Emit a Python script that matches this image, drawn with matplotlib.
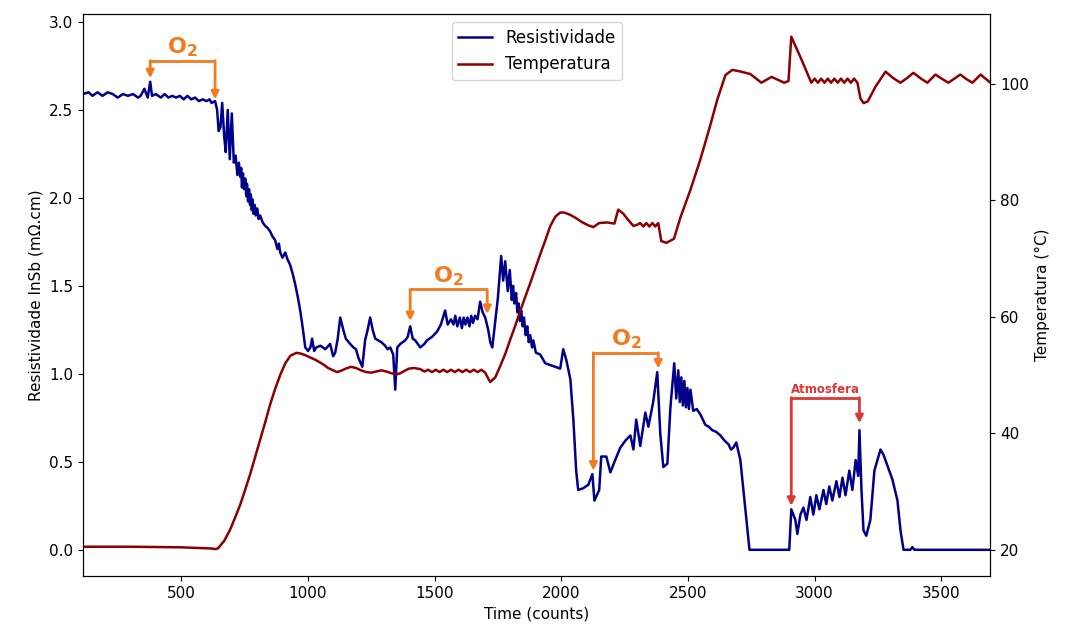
import matplotlib.pyplot as plt

# resistivity of the InSb film (mOhm.cm) as (time, value) pairs
res_points = [
    (113, 2.59), (135, 2.60), (150, 2.58), (170, 2.60), (190, 2.58), (210, 2.60),
    (230, 2.59), (250, 2.57), (270, 2.59), (290, 2.58), (310, 2.59), (330, 2.57),
    (340, 2.58), (355, 2.62), (368, 2.57), (378, 2.66), (385, 2.58), (400, 2.59),
    (420, 2.57), (435, 2.59), (450, 2.57), (465, 2.58), (480, 2.57), (495, 2.58),
    (510, 2.56), (525, 2.58), (540, 2.56), (555, 2.57), (570, 2.55), (585, 2.56),
    (600, 2.55), (612, 2.56), (620, 2.54), (634, 2.55), (642, 2.50), (648, 2.38),
    (655, 2.40), (662, 2.54), (670, 2.35), (676, 2.26), (684, 2.50), (692, 2.22),
    (700, 2.48), (708, 2.20), (715, 2.24), (722, 2.13), (728, 2.20), (733, 2.12),
    (737, 2.17), (740, 2.06), (744, 2.14), (748, 2.05), (753, 2.11), (757, 2.01),
    (760, 2.08), (764, 1.98), (768, 2.05), (772, 1.96), (775, 2.02), (779, 1.93),
    (782, 1.99), (786, 1.91), (790, 1.96), (795, 1.90), (800, 1.94), (806, 1.88),
    (812, 1.90), (822, 1.86), (832, 1.84), (841, 1.83), (851, 1.81), (861, 1.78),
    (871, 1.76), (880, 1.71), (886, 1.74), (891, 1.69), (900, 1.66), (911, 1.69),
    (920, 1.65), (930, 1.62), (940, 1.57), (950, 1.51), (960, 1.44), (970, 1.36),
    (980, 1.26), (990, 1.15), (1001, 1.13), (1010, 1.15), (1017, 1.20), (1025, 1.13),
    (1033, 1.15), (1050, 1.16), (1069, 1.14), (1088, 1.17), (1100, 1.10), (1108, 1.12),
    (1118, 1.20), (1128, 1.32), (1140, 1.25), (1150, 1.20), (1167, 1.17), (1180, 1.15),
    (1190, 1.14), (1200, 1.09), (1215, 1.04), (1226, 1.19), (1236, 1.25), (1246, 1.32),
    (1256, 1.25), (1266, 1.20), (1278, 1.19), (1290, 1.18), (1305, 1.16), (1315, 1.14),
    (1325, 1.15), (1337, 1.11), (1345, 0.91), (1353, 1.15), (1365, 1.17), (1384, 1.19),
    (1394, 1.21), (1404, 1.27), (1414, 1.20), (1424, 1.19), (1444, 1.15), (1460, 1.17),
    (1470, 1.19), (1490, 1.21), (1510, 1.24), (1525, 1.28), (1542, 1.36), (1552, 1.28),
    (1565, 1.31), (1575, 1.28), (1582, 1.33), (1590, 1.27), (1600, 1.32), (1608, 1.26),
    (1615, 1.32), (1622, 1.28), (1630, 1.32), (1638, 1.27), (1645, 1.33), (1652, 1.29),
    (1660, 1.33), (1670, 1.31), (1680, 1.41), (1690, 1.35), (1700, 1.32), (1712, 1.25),
    (1720, 1.18), (1728, 1.15), (1740, 1.30), (1750, 1.43), (1763, 1.67), (1771, 1.53),
    (1779, 1.64), (1789, 1.47), (1797, 1.59), (1805, 1.42), (1810, 1.50), (1815, 1.40),
    (1822, 1.46), (1827, 1.35), (1832, 1.40), (1837, 1.30), (1842, 1.36), (1848, 1.27),
    (1853, 1.32), (1860, 1.22), (1866, 1.27), (1872, 1.18), (1878, 1.22), (1885, 1.15),
    (1890, 1.19), (1900, 1.12), (1917, 1.11), (1937, 1.06), (1957, 1.05), (1977, 1.04),
    (1996, 1.03), (2008, 1.14), (2020, 1.08), (2036, 0.97), (2048, 0.74), (2059, 0.45),
    (2067, 0.34), (2087, 0.35), (2107, 0.37), (2123, 0.43), (2131, 0.28), (2150, 0.34),
    (2158, 0.53), (2178, 0.53), (2194, 0.44), (2213, 0.51), (2233, 0.58), (2253, 0.62),
    (2273, 0.65), (2285, 0.57), (2296, 0.74), (2312, 0.59), (2332, 0.78), (2344, 0.70),
    (2363, 0.84), (2379, 1.01), (2391, 0.66), (2403, 0.47), (2419, 0.49), (2431, 0.81),
    (2446, 1.06), (2454, 0.86), (2462, 1.02), (2468, 0.84), (2474, 0.98), (2480, 0.82),
    (2486, 0.96), (2492, 0.81), (2498, 0.92), (2504, 0.80), (2510, 0.91), (2521, 0.79),
    (2535, 0.80), (2549, 0.77), (2569, 0.71), (2582, 0.70), (2596, 0.68), (2612, 0.67),
    (2628, 0.65), (2645, 0.62), (2660, 0.60), (2670, 0.57), (2679, 0.58), (2691, 0.61),
    (2707, 0.51), (2727, 0.23), (2743, 0.0), (2900, 0.0), (2908, 0.23), (2924, 0.17),
    (2932, 0.09), (2944, 0.20), (2956, 0.24), (2968, 0.17), (2983, 0.30), (2995, 0.20),
    (3007, 0.31), (3019, 0.23), (3035, 0.34), (3046, 0.26), (3058, 0.36), (3070, 0.28),
    (3086, 0.39), (3098, 0.30), (3110, 0.41), (3122, 0.31), (3137, 0.45), (3149, 0.34),
    (3162, 0.51), (3172, 0.42), (3177, 0.68), (3185, 0.34), (3193, 0.11), (3204, 0.08),
    (3220, 0.17), (3236, 0.45), (3248, 0.51), (3260, 0.57), (3272, 0.54), (3287, 0.48),
    (3307, 0.40), (3327, 0.28), (3339, 0.11), (3351, 0.0), (3378, 0.0), (3386, 0.015),
    (3394, 0.0), (3694, 0.0),
]
res_t = [p[0] for p in res_points]
res_v = [p[1] for p in res_points]

# furnace temperature (deg C) as (time, value) pairs
temp_points = [
    (113, 20.5), (300, 20.5), (500, 20.4), (620, 20.2), (634, 20.1), (645, 20.2),
    (670, 21.5), (693, 23.4), (713, 25.5), (733, 27.7), (752, 30.2), (772, 32.9),
    (792, 35.9), (812, 38.9), (832, 41.9), (851, 44.9), (871, 47.6), (891, 50.0),
    (911, 52.0), (931, 53.3), (955, 53.8), (970, 53.7), (990, 53.4), (1010, 53.0),
    (1030, 52.6), (1050, 52.1), (1065, 51.7), (1080, 51.2), (1100, 50.8), (1115, 50.5),
    (1130, 50.7), (1150, 51.1), (1170, 51.4), (1190, 51.2), (1210, 50.8), (1230, 50.5),
    (1250, 50.4), (1270, 50.6), (1290, 50.8), (1310, 50.6), (1330, 50.3), (1350, 50.1),
    (1365, 50.3), (1385, 50.8), (1400, 51.1), (1420, 51.2), (1444, 51.0), (1460, 50.6),
    (1475, 50.9), (1490, 50.5), (1505, 50.9), (1520, 50.5), (1535, 50.9), (1550, 50.5),
    (1565, 50.9), (1580, 50.5), (1595, 50.9), (1610, 50.5), (1625, 50.9), (1640, 50.5),
    (1655, 50.9), (1670, 50.5), (1685, 50.9), (1700, 50.4), (1712, 49.4), (1720, 48.8),
    (1740, 49.6), (1759, 51.5), (1779, 53.6), (1799, 56.1), (1819, 58.5), (1838, 61.0),
    (1858, 63.4), (1878, 65.8), (1898, 68.3), (1917, 70.7), (1937, 73.1), (1957, 75.6),
    (1977, 77.2), (1996, 77.9), (2012, 77.9), (2036, 77.5), (2060, 76.9), (2080, 76.3),
    (2107, 75.7), (2127, 75.4), (2150, 76.1), (2182, 76.2), (2210, 76.0), (2225, 78.4),
    (2245, 77.7), (2265, 76.6), (2285, 75.6), (2300, 75.8), (2312, 76.1), (2324, 75.5),
    (2336, 76.1), (2348, 75.5), (2360, 76.1), (2371, 75.5), (2383, 76.1), (2395, 73.0),
    (2415, 72.7), (2445, 73.4), (2470, 77.0), (2510, 81.8), (2549, 87.0), (2589, 93.0),
    (2616, 97.3), (2648, 101.5), (2675, 102.4), (2700, 102.2), (2746, 101.7), (2790, 100.2),
    (2830, 101.2), (2880, 100.2), (2897, 100.5), (2908, 108.1), (2948, 104.2), (2987, 100.2),
    (3000, 100.9), (3013, 100.2), (3026, 100.9), (3039, 100.2), (3052, 100.9), (3065, 100.2),
    (3078, 100.9), (3091, 100.2), (3104, 100.9), (3117, 100.2), (3130, 100.9), (3143, 100.2),
    (3156, 100.9), (3169, 100.2), (3181, 97.5), (3193, 96.7), (3210, 97.0), (3240, 99.5),
    (3280, 102.1), (3310, 101.0), (3339, 100.2), (3365, 101.0), (3390, 101.9), (3420, 100.9),
    (3445, 100.2), (3477, 101.6), (3505, 100.8), (3528, 100.2), (3575, 101.6), (3600, 100.8),
    (3623, 100.2), (3655, 101.6), (3694, 100.2),
]
temp_t = [p[0] for p in temp_points]
temp_v = [p[1] for p in temp_points]

# bracket annotations: left time, right time, bracket height, arrow tips
o2_left = [378, 1404, 2127]
o2_right = [634, 1708, 2383]
o2_top = [2.78, 1.48, 1.12]
o2_tip_left = [2.68, 1.30, 0.45]
o2_tip_right = [2.56, 1.34, 1.03]
atm_left, atm_right, atm_top = 2908, 3177, 0.865
atm_tip_left, atm_tip_right = 0.25, 0.72

fig, ax = plt.subplots(figsize=(10.65, 6.37), dpi=100)
fig.subplots_adjust(left=0.078, right=0.93, top=0.978, bottom=0.096)
ax2 = ax.twinx()

l1, = ax.plot(res_t, res_v, color='darkblue', lw=1.8, label='Resistividade')
l2, = ax2.plot(temp_t, temp_v, color='darkred', lw=1.8, label='Temperatura')

ax.set_xlim(113, 3694)
ax.set_ylim(-0.148, 3.045)
ax2.set_ylim(15.5, 112)
ax2.set_yticks([20, 40, 60, 80, 100])
ax.set_xlabel('Time (counts)', fontsize=11)
ax.set_ylabel('Resistividade InSb (m\u03a9.cm)', fontsize=11)
ax2.set_ylabel('Temperatura (\u00b0C)', fontsize=11)
ax.tick_params(labelsize=11)
ax2.tick_params(labelsize=11)


def bracket(x1, x2, top, tip1, tip2, color, text, fs, dy):
    ax.plot([x1, x2], [top, top], color=color, lw=2, solid_capstyle='butt', zorder=5)
    for x, tip in ((x1, tip1), (x2, tip2)):
        ax.annotate('', xy=(x, tip), xytext=(x, top),
                    arrowprops=dict(arrowstyle='-|>', color=color, lw=2,
                                    shrinkA=0, shrinkB=0, mutation_scale=11),
                    zorder=5)
    ax.text((x1 + x2) / 2, top + dy, text, color=color, fontsize=fs,
            fontweight='bold', ha='center', va='bottom')


orange = '#f47a20'
for i in range(len(o2_left)):
    bracket(o2_left[i], o2_right[i], o2_top[i], o2_tip_left[i], o2_tip_right[i],
            orange, r'$\mathbf{O_2}$', 16, 0.01)
bracket(atm_left, atm_right, atm_top, atm_tip_left, atm_tip_right,
        '#e03535', 'Atmosfera', 8.5, 0.01)

ax.legend([l1, l2], ['Resistividade', 'Temperatura'], loc='upper center', fontsize=12)

plt.savefig('out.png')
